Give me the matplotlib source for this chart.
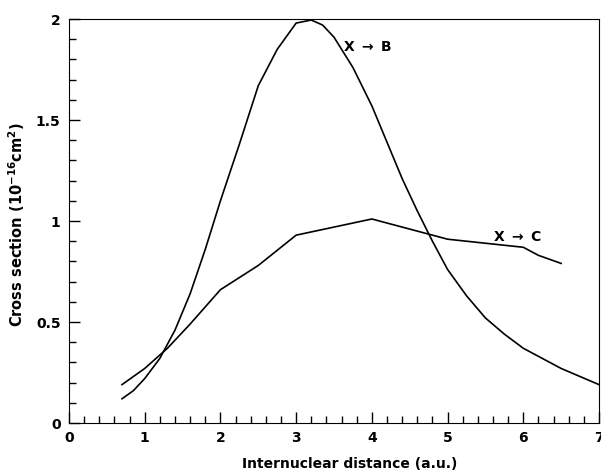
import numpy as np
import matplotlib.pyplot as plt
from matplotlib.ticker import MultipleLocator, FuncFormatter

plt.rcParams['font.family'] = ['DejaVu Sans']
plt.rcParams['font.weight'] = 'bold'
plt.rcParams['mathtext.default'] = 'bf'

# X -> B curve
xb_x = [0.7, 0.85, 1.0, 1.2, 1.4, 1.6, 1.8, 2.0, 2.25, 2.5, 2.75, 3.0, 3.2, 3.35, 3.5, 3.75, 4.0, 4.2, 4.4, 4.6, 4.8, 5.0, 5.25, 5.5, 5.75, 6.0, 6.25, 6.5, 6.75, 7.0]
xb_y = [0.12, 0.16, 0.22, 0.32, 0.46, 0.64, 0.86, 1.10, 1.38, 1.67, 1.85, 1.98, 1.995, 1.97, 1.91, 1.76, 1.57, 1.39, 1.21, 1.05, 0.90, 0.76, 0.63, 0.52, 0.44, 0.37, 0.32, 0.27, 0.23, 0.19]

# X -> C curve
xc_x = [0.7, 1.0, 1.3, 1.6, 2.0, 2.5, 3.0, 3.5, 4.0, 4.5, 4.8, 5.0, 5.5, 6.0, 6.2, 6.5]
xc_y = [0.19, 0.27, 0.37, 0.49, 0.66, 0.78, 0.93, 0.97, 1.01, 0.96, 0.93, 0.91, 0.89, 0.87, 0.83, 0.79]

fig = plt.figure(figsize=(6.01, 4.72), dpi=100)
ax = fig.add_axes([0.1148, 0.1038, 0.8819, 0.8559])

ax.plot(xb_x, xb_y, color='black', lw=1.2)
ax.plot(xc_x, xc_y, color='black', lw=1.2)

ax.text(3.95, 1.86, 'X $\\rightarrow$ B', fontsize=10, fontweight='bold', va='center', ha='center')
ax.text(5.93, 0.92, 'X $\\rightarrow$ C', fontsize=10, fontweight='bold', va='center', ha='center')

ax.set_xlim(0, 7)
ax.set_ylim(0, 2)
ax.xaxis.set_major_locator(MultipleLocator(1))
ax.xaxis.set_minor_locator(MultipleLocator(0.2))
ax.yaxis.set_major_locator(MultipleLocator(0.5))
ax.yaxis.set_minor_locator(MultipleLocator(0.1))
ax.yaxis.set_major_formatter(FuncFormatter(lambda v, p: f'{v:g}'))
ax.tick_params(which='both', direction='in', top=False, right=False, labelsize=10)
ax.tick_params(which='major', length=8, width=1, pad=6)
ax.tick_params(which='minor', length=5, width=1)
for lbl in ax.get_xticklabels() + ax.get_yticklabels():
    lbl.set_fontweight('bold')

ax.set_xlabel('Internuclear distance (a.u.)', fontsize=10, fontweight='bold')
ax.set_ylabel('Cross section (10$^{-16}$cm$^{2}$)', fontsize=10.5, fontweight='bold')
ax.xaxis.set_label_coords(0.53, -0.083)
ax.yaxis.set_label_coords(-0.079, 0.49)

fig.savefig('out.png', dpi=100)
